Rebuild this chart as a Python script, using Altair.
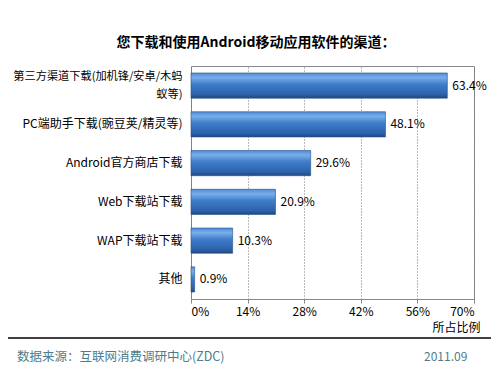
import altair as alt
import pandas as pd

categories = [
    "第三方渠道下载(加机锋/安卓/木蚂|蚁等)",
    "PC端助手下载(豌豆荚/精灵等)",
    "Android官方商店下载",
    "Web下载站下载",
    "WAP下载站下载",
    "其他",
]
values = [63.4, 48.1, 29.6, 20.9, 10.3, 0.9]
x_ticks = [0, 14, 28, 42, 56, 70]

title_text = "您下载和使用Android移动应用软件的渠道："
source_text = "数据来源：互联网消费调研中心(ZDC)"
date_text = "2011.09"
axis_title = "所占比例"

FONT = "Noto Sans CJK SC"

df = pd.DataFrame({"cat": categories, "val": values})
df["label"] = df["val"].map(lambda v: f"{v:.1f}%")

W, H = 283, 233
is_long = "indexof(datum.label, '|') >= 0"

x_enc = alt.X(
    "val:Q",
    scale=alt.Scale(domain=[0, 70], nice=False),
    axis=alt.Axis(
        values=x_ticks,
        labelExpr="datum.value + '%'",
        grid=True,
        gridDash=[1, 2],
        gridColor="#777777",
        gridOpacity=1,
        domain=False,
        ticks=True,
        tickColor="#888888",
        tickSize=4,
        labelFont=FONT,
        labelFontSize=12,
        labelColor="#000000",
        labelPadding=3,
        title=axis_title,
        titleFont=FONT,
        titleFontSize=12,
        titleFontWeight="normal",
        titleColor="#000000",
        titleX=W + 6,
        titleY=23,
        titleAlign="right",
        titleAnchor="end",
    ),
)
y_enc = alt.Y(
    "cat:N",
    sort=categories,
    scale=alt.Scale(paddingInner=0.35, paddingOuter=0.18),
    axis=alt.Axis(
        title=None,
        labelExpr="split(datum.label, '|')",
        labelFont=FONT,
        labelFontSize={"condition": {"test": is_long, "value": 11.2}, "value": 12},
        labelColor="#000000",
        labelPadding=9,
        labelLimit=200,
        ticks=False,
        domain=False,
        labelLineHeight=18,
        labelOffset={"condition": {"test": is_long, "value": -9}, "value": 0},
    ),
)

grad = alt.Gradient(
    gradient="linear",
    x1=0, x2=0, y1=0, y2=1,
    stops=[
        alt.GradientStop(offset=0, color="#4f8bd6"),
        alt.GradientStop(offset=0.18, color="#78aeea"),
        alt.GradientStop(offset=0.45, color="#3f7cca"),
        alt.GradientStop(offset=0.85, color="#2d62ab"),
        alt.GradientStop(offset=1, color="#1f477f"),
    ],
)

bars = alt.Chart(df).mark_bar(fill=grad, stroke="#24508c", strokeWidth=0.6).encode(
    x=x_enc, y=y_enc
)

labels = alt.Chart(df).mark_text(
    align="left", baseline="middle", dx=5, font=FONT, fontSize=12, color="#000000"
).encode(x="val:Q", y=alt.Y("cat:N", sort=categories), text="label:N")

title = alt.Chart(pd.DataFrame({"t": [title_text]})).mark_text(
    font=FONT, fontSize=14, fontWeight="bold", align="center", baseline="middle",
    color="#000000",
).encode(x=alt.value(65), y=alt.value(-23), text="t:N")

rule = alt.Chart(pd.DataFrame({"a": [0]})).mark_rule(
    color="#000000", strokeWidth=1.5
).encode(x=alt.value(-183), x2=alt.value(304), y=alt.value(272))

source = alt.Chart(pd.DataFrame({"t": [source_text]})).mark_text(
    font=FONT, fontSize=12.5, align="left", baseline="middle", color="#4d7c8c"
).encode(x=alt.value(-174), y=alt.value(291), text="t:N")

date = alt.Chart(pd.DataFrame({"t": [date_text]})).mark_text(
    font=FONT, fontSize=12, align="left", baseline="middle", color="#4d7c8c"
).encode(x=alt.value(233), y=alt.value(291), text="t:N")

chart = (
    alt.layer(bars, labels, title, rule, source, date)
    .properties(
        width=W,
        height=H,
        autosize=alt.AutoSizeParams(type="none"),
        padding={"left": 183, "top": 58, "right": 17, "bottom": 67},
    )
    .configure_view(stroke="#888888", strokeWidth=1)
)

chart.save("out.html", embed_options={"renderer": "svg", "actions": False})
